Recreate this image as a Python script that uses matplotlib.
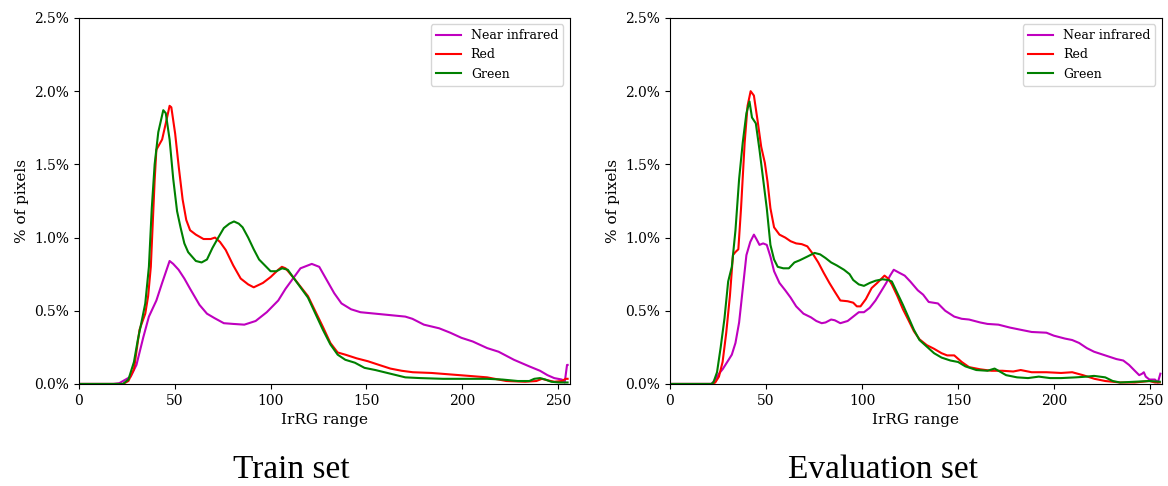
import numpy as np
import matplotlib
matplotlib.use('Agg')
import matplotlib.pyplot as plt
from matplotlib.ticker import FuncFormatter

# ---- Train set (x = IrRG value, y = % of pixels) ----
train_nir_x = [0, 18, 21, 27, 30, 33.6, 36.5, 40.4, 43.4, 47.3, 49.2, 52, 55, 58, 62.9, 66.8, 70.7, 75.6, 80.5,
               86.3, 92.2, 98, 104, 107.8, 111.7, 115.6, 121.5, 125.4, 129.3, 133.2, 137, 142, 146.9, 154.7,
               162.5, 170.3, 174, 180, 188, 193.75, 199.6, 205.5, 213, 219, 227, 235, 240.6, 244.5, 248, 252,
               253.5, 254.7, 255]
train_nir_y = [0, 0, 0.005, 0.05, 0.13, 0.32, 0.46, 0.57, 0.69, 0.84, 0.82, 0.78, 0.72, 0.65, 0.54, 0.48, 0.45,
               0.415, 0.41, 0.405, 0.43, 0.49, 0.57, 0.65, 0.72, 0.79, 0.82, 0.80, 0.71, 0.62, 0.55, 0.51, 0.49,
               0.48, 0.47, 0.46, 0.445, 0.405, 0.38, 0.35, 0.315, 0.29, 0.245, 0.22, 0.165, 0.12, 0.09, 0.06,
               0.04, 0.03, 0.01, 0.13, 0.13]

train_red_x = [0, 23, 25.8, 28.7, 31.6, 34.6, 36.1, 37.5, 39.5, 40.4, 43.4, 45.3, 47.3, 48.2, 50.2, 52.1, 54.1,
               56, 58, 61, 65, 68.75, 71, 73.6, 76.6, 80.5, 84.4, 88.3, 91.2, 96, 100, 104, 105.9, 107.8, 111.7,
               115.6, 119.5, 123.4, 127.3, 131.2, 135, 139, 144.9, 150.8, 156.6, 162.5, 168.4, 174.2, 184,
               193.75, 203.5, 213, 217, 223, 232.8, 238.7, 241.6, 244.5, 248, 252, 254, 255]
train_red_y = [0, 0, 0.02, 0.1, 0.37, 0.48, 0.6, 0.8, 1.39, 1.6, 1.67, 1.78, 1.90, 1.89, 1.71, 1.48, 1.26, 1.12,
               1.05, 1.02, 0.99, 0.99, 1.00, 0.97, 0.915, 0.81, 0.72, 0.68, 0.66, 0.69, 0.73, 0.78, 0.80, 0.79,
               0.73, 0.665, 0.60, 0.495, 0.39, 0.28, 0.215, 0.2, 0.175, 0.155, 0.13, 0.105, 0.09, 0.08, 0.075,
               0.065, 0.055, 0.045, 0.035, 0.02, 0.015, 0.02, 0.035, 0.025, 0.015, 0.02, 0.035, 0.035]

train_green_x = [0, 23, 25.8, 28.7, 30.7, 32.6, 34.6, 36.5, 38, 39.5, 41.4, 44, 45.3, 47.3, 49.2, 51.2, 53, 55,
                 57, 59, 61, 64, 66.8, 69.7, 72.7, 75.6, 78.5, 80.9, 83.4, 85.4, 88.3, 91.2, 94, 97, 100, 103,
                 106, 109, 111.7, 115.6, 119.5, 123.4, 127.3, 131.2, 135, 139, 144, 149, 154.7, 162.5, 170.3,
                 178, 190, 203.5, 213, 221, 229, 235, 237.6, 240.6, 243.4, 246.5, 250.4, 255]
train_green_y = [0, 0, 0.03, 0.15, 0.3, 0.42, 0.55, 0.8, 1.2, 1.5, 1.72, 1.87, 1.85, 1.67, 1.40, 1.18, 1.07,
                 0.96, 0.9, 0.87, 0.84, 0.83, 0.85, 0.93, 1.00, 1.065, 1.095, 1.11, 1.095, 1.07, 1.00, 0.92, 0.85,
                 0.81, 0.77, 0.77, 0.79, 0.78, 0.73, 0.66, 0.59, 0.48, 0.37, 0.27, 0.2, 0.165, 0.145, 0.11,
                 0.095, 0.07, 0.045, 0.04, 0.035, 0.035, 0.035, 0.03, 0.02, 0.02, 0.035, 0.04, 0.03, 0.015,
                 0.01, 0.01]

# ---- Evaluation set ----
eval_nir_x = [0, 21.6, 23.6, 25.5, 27.4, 30.3, 32.2, 34.1, 36, 37.9, 39.8, 41.8, 43.7, 45, 46.6, 48.5, 50.4,
              52.3, 54.2, 57, 60, 62.8, 65.7, 69.5, 73.4, 76.2, 79, 81, 83.9, 85.8, 88.7, 92.5, 95.4, 98.3, 101,
              104, 107, 109.8, 112.6, 114.6, 116.5, 119.3, 122.2, 125.1, 129, 131.8, 134.7, 139.5, 143.3, 148,
              151.9, 155.7, 161.5, 165.3, 171, 177, 182.6, 188.3, 196, 199.8, 205.6, 209.4, 213, 217, 220.8,
              226.6, 232.4, 236, 239, 242, 244.3, 245.8, 246.7, 247.7, 249.6, 252.5, 254, 255.3]
eval_nir_y = [0, 0, 0.03, 0.07, 0.1, 0.16, 0.2, 0.28, 0.42, 0.65, 0.88, 0.97, 1.02, 0.99, 0.95, 0.96, 0.95,
              0.87, 0.77, 0.69, 0.64, 0.59, 0.53, 0.48, 0.455, 0.43, 0.415, 0.42, 0.44, 0.435, 0.415, 0.43,
              0.46, 0.49, 0.49, 0.52, 0.57, 0.63, 0.69, 0.74, 0.78, 0.76, 0.74, 0.70, 0.64, 0.61, 0.56, 0.55,
              0.50, 0.46, 0.445, 0.44, 0.42, 0.41, 0.405, 0.385, 0.37, 0.355, 0.35, 0.33, 0.31, 0.30, 0.28,
              0.245, 0.22, 0.195, 0.17, 0.16, 0.13, 0.09, 0.06, 0.07, 0.08, 0.05, 0.03, 0.03, 0.01, 0.07]

eval_red_x = [0, 22, 23.6, 25.5, 27.4, 29.3, 31.2, 32.8, 34, 35.6, 37, 38.9, 40.4, 42, 43.7, 45.6, 47.5, 49.4,
              50.8, 52.3, 54.2, 57, 60, 62.8, 65.7, 68.6, 71.5, 74.3, 77.2, 80, 83, 85.8, 88.7, 92.5, 95.4,
              97.3, 99.2, 102, 105, 107.9, 109.8, 111.7, 113.6, 115.5, 118.4, 121.3, 124, 127, 129.9, 133.7,
              137.5, 141.4, 144.3, 148, 151.9, 155.7, 161.5, 167.3, 173, 178.7, 182.6, 188.3, 196, 203.6,
              209.4, 215, 221, 226.6, 234.3, 242, 245.8, 249.6, 252.5, 255]
eval_red_y = [0, 0, 0.01, 0.05, 0.15, 0.35, 0.6, 0.88, 0.9, 0.92, 1.2, 1.65, 1.9, 2.0, 1.97, 1.80, 1.62, 1.51,
              1.38, 1.20, 1.07, 1.02, 1.00, 0.975, 0.96, 0.955, 0.94, 0.89, 0.83, 0.76, 0.69, 0.63, 0.57, 0.565,
              0.555, 0.53, 0.53, 0.58, 0.655, 0.69, 0.715, 0.74, 0.72, 0.68, 0.60, 0.51, 0.44, 0.36, 0.305,
              0.265, 0.24, 0.21, 0.195, 0.195, 0.15, 0.115, 0.1, 0.09, 0.09, 0.085, 0.095, 0.08, 0.08, 0.075,
              0.08, 0.06, 0.035, 0.02, 0.01, 0.01, 0.015, 0.02, 0.01, 0.01]

eval_green_x = [0, 21.5, 22.6, 24.5, 26.4, 28.4, 30.3, 32.2, 34.1, 36, 37.9, 39.8, 41.4, 42.7, 44.7, 46.6, 48.5,
                50.4, 52.3, 54.2, 56.1, 59, 61.9, 64.8, 67.6, 71.5, 75.3, 78.2, 81, 83.9, 86.8, 90.6, 93.5,
                95.4, 98.3, 101, 104, 107, 110.7, 113.6, 115.5, 118.4, 121.3, 124, 127, 129.9, 133.7, 137.5,
                141.4, 146, 150, 153.8, 159.5, 165.3, 169, 171, 175, 180.7, 186.4, 192, 197.9, 203.6, 211.3,
                217, 220.8, 226.6, 230.5, 234.3, 242, 249.6, 255]
eval_green_y = [0, 0, 0.01, 0.08, 0.25, 0.45, 0.7, 0.8, 1.05, 1.4, 1.65, 1.85, 1.93, 1.82, 1.78, 1.6, 1.4,
                1.2, 0.95, 0.85, 0.80, 0.79, 0.79, 0.83, 0.845, 0.87, 0.895, 0.885, 0.86, 0.83, 0.81, 0.78,
                0.75, 0.71, 0.68, 0.67, 0.69, 0.705, 0.715, 0.71, 0.70, 0.62, 0.54, 0.46, 0.37, 0.30, 0.255,
                0.21, 0.18, 0.16, 0.15, 0.12, 0.095, 0.09, 0.105, 0.09, 0.06, 0.045, 0.04, 0.05, 0.04, 0.04,
                0.045, 0.05, 0.055, 0.045, 0.02, 0.01, 0.015, 0.02, 0.015]

series_labels = ['Near infrared', 'Red', 'Green']
series_colors = ['m', 'r', 'g']
titles = ['Train set', 'Evaluation set']
title_x = [0.249, 0.756]

plt.rcParams['font.family'] = ['DejaVu Serif']

fig = plt.figure(figsize=(11.68, 4.86), dpi=100)
ax1 = fig.add_axes([0.0676, 0.21, 0.420, 0.753])
ax2 = fig.add_axes([0.5736, 0.21, 0.421, 0.753])

panels = [
    (ax1, [(train_nir_x, train_nir_y), (train_red_x, train_red_y), (train_green_x, train_green_y)]),
    (ax2, [(eval_nir_x, eval_nir_y), (eval_red_x, eval_red_y), (eval_green_x, eval_green_y)]),
]

for (ax, curves), title, tx in zip(panels, titles, title_x):
    for (xs, ys), lab, col in zip(curves, series_labels, series_colors):
        ax.plot(xs, ys, color=col, lw=1.5, label=lab)
    ax.set_xlim(0, 256)
    ax.set_ylim(0, 2.5)
    ax.set_xticks([0, 50, 100, 150, 200, 250])
    ax.set_yticks([0, 0.5, 1.0, 1.5, 2.0, 2.5])
    ax.yaxis.set_major_formatter(FuncFormatter(lambda v, p: f'{v:.1f}%'))
    ax.tick_params(labelsize=10)
    ax.set_xlabel('IrRG range', fontsize=11)
    ax.set_ylabel('% of pixels', fontsize=11)
    ax.legend(loc='upper right', fontsize=9)
    # caption under each panel
    fig.text(tx, 8 / 486, title, ha='center', va='baseline',
             fontsize=24, family='Liberation Serif')

fig.savefig('out.png', dpi=100)
